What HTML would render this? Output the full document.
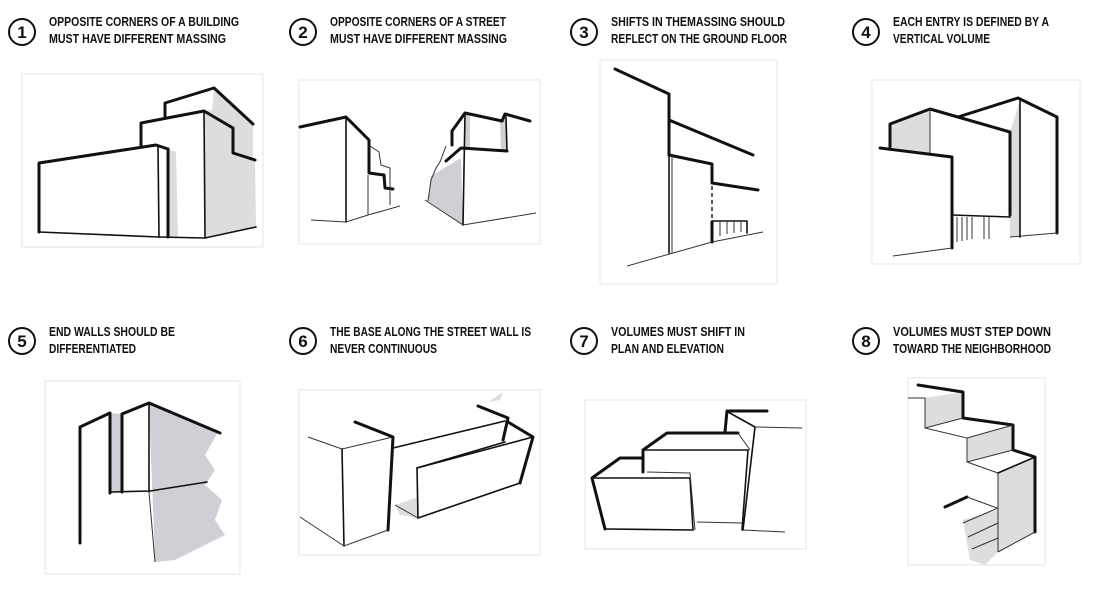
<!DOCTYPE html>
<html><head><meta charset="utf-8"><style>
html,body{margin:0;padding:0;background:#fff;}
svg{display:block}
.t{font-family:"Liberation Sans",sans-serif;font-weight:bold;font-size:12.5px;fill:#111}
.n{font-family:"Liberation Sans",sans-serif;font-weight:bold;font-size:17px;fill:#111}
.c{fill:#fff;stroke:#111;stroke-width:2}
.f{fill:#fff;stroke:#e4e4e4;stroke-width:1}
.k{fill:none;stroke:#111;stroke-width:3;stroke-linejoin:round;stroke-linecap:round}
.m{fill:none;stroke:#111;stroke-width:1.6;stroke-linecap:round}
.s{fill:none;stroke:#333;stroke-width:1}
.g{fill:#ddd;stroke:none}
.g2{fill:#cfcfd6;stroke:none}
</style></head><body>
<svg width="1100" height="593" viewBox="0 0 1100 593" xmlns="http://www.w3.org/2000/svg">
<circle class="c" cx="22" cy="32" r="13"/><text class="n" x="22" y="38" text-anchor="middle">1</text>
<text class="t" x="49" y="26" textLength="190" lengthAdjust="spacingAndGlyphs">OPPOSITE CORNERS OF A BUILDING</text>
<text class="t" x="49" y="43" textLength="177" lengthAdjust="spacingAndGlyphs">MUST HAVE DIFFERENT MASSING</text>
<circle class="c" cx="303" cy="32" r="13"/><text class="n" x="303" y="38" text-anchor="middle">2</text>
<text class="t" x="330" y="26" textLength="176" lengthAdjust="spacingAndGlyphs">OPPOSITE CORNERS OF A STREET</text>
<text class="t" x="330" y="43" textLength="177" lengthAdjust="spacingAndGlyphs">MUST HAVE DIFFERENT MASSING</text>
<circle class="c" cx="584" cy="32" r="13"/><text class="n" x="584" y="38" text-anchor="middle">3</text>
<text class="t" x="611" y="26" textLength="174" lengthAdjust="spacingAndGlyphs">SHIFTS IN THEMASSING SHOULD</text>
<text class="t" x="611" y="43" textLength="176" lengthAdjust="spacingAndGlyphs">REFLECT ON THE GROUND FLOOR</text>
<circle class="c" cx="866" cy="32" r="13"/><text class="n" x="866" y="38" text-anchor="middle">4</text>
<text class="t" x="893" y="26" textLength="156" lengthAdjust="spacingAndGlyphs">EACH ENTRY IS DEFINED BY A</text>
<text class="t" x="893" y="43" textLength="97" lengthAdjust="spacingAndGlyphs">VERTICAL VOLUME</text>
<circle class="c" cx="22" cy="341" r="13"/><text class="n" x="22" y="347" text-anchor="middle">5</text>
<text class="t" x="49" y="336" textLength="126" lengthAdjust="spacingAndGlyphs">END WALLS SHOULD BE</text>
<text class="t" x="49" y="353" textLength="87" lengthAdjust="spacingAndGlyphs">DIFFERENTIATED</text>
<circle class="c" cx="303" cy="341" r="13"/><text class="n" x="303" y="347" text-anchor="middle">6</text>
<text class="t" x="330" y="336" textLength="201" lengthAdjust="spacingAndGlyphs">THE BASE ALONG THE STREET WALL IS</text>
<text class="t" x="330" y="353" textLength="107" lengthAdjust="spacingAndGlyphs">NEVER CONTINUOUS</text>
<circle class="c" cx="584" cy="341" r="13"/><text class="n" x="584" y="347" text-anchor="middle">7</text>
<text class="t" x="611" y="336" textLength="134" lengthAdjust="spacingAndGlyphs">VOLUMES MUST SHIFT IN</text>
<text class="t" x="611" y="353" textLength="113" lengthAdjust="spacingAndGlyphs">PLAN AND ELEVATION</text>
<circle class="c" cx="866" cy="341" r="13"/><text class="n" x="866" y="347" text-anchor="middle">8</text>
<text class="t" x="893" y="336" textLength="158" lengthAdjust="spacingAndGlyphs">VOLUMES MUST STEP DOWN</text>
<text class="t" x="893" y="353" textLength="158" lengthAdjust="spacingAndGlyphs">TOWARD THE NEIGHBORHOOD</text>

<rect class="f" x="22" y="74" width="241" height="173"/>
<rect class="f" x="299" y="80" width="241" height="164"/>
<rect class="f" x="600" y="60" width="177" height="224"/>
<rect class="f" x="872" y="80" width="208" height="184"/>
<rect class="f" x="45" y="381" width="195" height="193"/>
<rect class="f" x="299" y="390" width="241" height="165"/>
<rect class="f" x="585" y="400" width="221" height="149"/>
<rect class="f" x="908" y="378" width="137" height="187"/>

<!-- sketch 1 -->
<polygon class="g" points="214,88 253,124 253,158 255,160 256,227 205,238 204,111 212,110"/>
<polygon class="g" points="168,149 176,152 178,237 168,237"/>
<polyline class="k" points="39,232 39,163 156,145 168,149"/>
<polyline class="m" points="39,232 159,237 205,238 256,227"/>
<polyline class="m" points="158,146 159,237"/><polyline class="k" points="168,149 168,237"/>
<polyline class="k" points="141,147 141,123 204,111 233,128 233,153 255,160"/>
<polyline class="m" points="204,111 205,238"/>
<polyline class="k" points="165,116 165,103 214,88 253,124"/>

<!-- sketch 2 -->
<polygon class="g2" points="431,176 461,158 463,225 428,201"/>
<polygon class="g2" points="465,113 470,115 470,150 465,148"/>
<polygon class="g2" points="500,121 506,118 507,151 501,151"/>
<polyline class="k" points="300,127 346,117 369,140 369,173 384,175 385,188 393,189"/>
<polyline class="m" points="346,117 346,222"/><polyline class="s" points="368,175 368,215"/>
<polyline class="s" points="311,220 346,222 368,215 400,206"/>
<polyline class="s" points="370,146 379,152 381,165 390,168 390,205"/>
<polyline class="k" points="446,161 461,148 507,151"/>
<polyline class="k" points="452,145 452,131 465,113 502,121"/>
<polyline class="k" points="502,121 505,114 530,121"/>
<polyline class="m" points="506,117 507,151"/>
<polyline class="m" points="465,113 463,225"/>
<polyline class="s" points="446,146 440,162 436,168 431,180 428,201"/>
<polyline class="s" points="425,200 463,225 536,213"/>

<!-- sketch 3 -->
<polyline class="k" points="615,69 669,94 669,155"/>
<polyline class="k" points="669,120 753,155"/>
<polyline class="k" points="669,155 712,164 712,183 758,190"/>
<polyline class="m" points="669,155 669,253"/><polyline class="s" points="672,155 672,253"/>
<polyline class="s" points="627,266 712,242 763,232"/>
<polyline class="k" points="712,222 712,242"/>
<polyline class="m" points="712,221 747,221 747,233"/>
<path class="s" d="M720 221V236M727 221V234M734 221V233M741 221V232"/>
<line x1="712" y1="186" x2="712" y2="220" stroke="#111" stroke-width="1.4" stroke-dasharray="4,3"/>

<!-- sketch 4 -->
<polygon class="g" points="890,124 930,109 930,153 890,147"/>
<polygon class="g" points="1010,132 1020,100 1020,237 1010,237"/>
<polyline class="k" points="890,147 890,124 930,109 1010,132 1010,215"/>
<polyline class="k" points="958,117 1018,98 1057,117 1057,233"/>
<polyline class="k" points="880,148 952,157 952,248"/>
<polyline class="s" points="893,256 952,248"/>
<polyline class="m" points="952,215 1010,217"/>
<polyline class="s" points="1010,237 1057,233"/>
<polyline class="m" points="1020,100 1020,237"/>
<polyline class="s" points="930,109 930,153"/>
<path class="s" d="M957 217V242M962 217V241M967 217V240M972 217V239M984 217V239M989 217V239"/>

<!-- sketch 5 -->
<polygon class="g2" points="149,403 218,432 205,455 215,470 205,485 222,500 215,520 225,535 175,560 155,562"/>
<polygon class="g2" points="110,413 122,414 122,492 110,493"/>
<polyline class="k" points="80,543 80,427 110,413 110,493"/>
<polyline class="k" points="122,492 122,414 149,403 220,433"/>
<polyline class="m" points="149,403 149,492"/><polyline class="s" points="149,492 155,562"/>
<polyline class="m" points="112,492 150,491 207,482"/>

<!-- sketch 6 -->
<polygon class="g" points="395,505 418,497 418,518 400,515"/>
<polygon class="g" points="488,402 503,392 500,400"/>
<polyline class="s" points="308,437 342,449 393,437"/>
<polyline class="k" points="355,422 393,437 388,530"/>
<polyline class="m" points="342,449 344,546"/>
<polyline class="s" points="300,517 344,546 388,530"/>
<polyline class="m" points="393,448 505,421"/>
<polyline class="k" points="478,406 508,418 503,440"/>
<polyline class="k" points="508,422 533,437 520,483"/>
<polyline class="m" points="417,468 533,437"/>
<polyline class="m" points="520,483 418,518 417,468 505,442"/>
<polyline class="s" points="395,505 418,518"/>

<!-- sketch 7 -->
<polyline class="k" points="605,529 592,478 620,458 642,458"/>
<polyline class="m" points="593,478 690,478 693,530 605,529"/>
<polyline class="s" points="647,472 690,473 695,530"/>
<polyline class="k" points="643,472 643,450 667,433 738,433"/>
<polyline class="m" points="643,450 748,450 742,530"/>
<polyline class="s" points="738,433 750,450"/>
<polyline class="s" points="697,522 742,523"/>
<polyline class="k" points="725,432 727,411 767,411"/>
<polyline class="m" points="728,412 755,427 743,530"/>
<polyline class="s" points="755,427 802,428"/>
<polyline class="s" points="743,530 785,532"/>

<!-- sketch 8 -->
<polygon class="g" points="925,398 963,392 963,418 925,428"/>
<polygon class="g" points="967,438 1013,425 1013,450 967,462"/>
<polygon class="g" points="998,473 1035,457 1035,532 998,552"/>
<polygon class="g" points="963,520 998,510 998,552 985,565 970,560"/>
<polyline class="k" points="918,385 963,392 963,418 1013,425 1013,450 1035,457 1035,532"/>
<polyline class="s" points="908,398 925,398 925,428 967,438 967,462 998,473 998,552"/>
<polyline class="s" points="925,428 963,418"/>
<polyline class="s" points="967,438 1013,425"/>
<polyline class="s" points="967,462 1013,450"/>
<polyline class="m" points="998,473 1035,457"/>
<polyline class="s" points="1035,532 998,552"/>
<polyline class="k" points="945,507 967,497"/>
<polyline class="s" points="967,497 997,508"/>
<path class="s" d="M963 523L998 508M968 537L998 523M972 549L998 538"/>
</svg>
</body></html>
